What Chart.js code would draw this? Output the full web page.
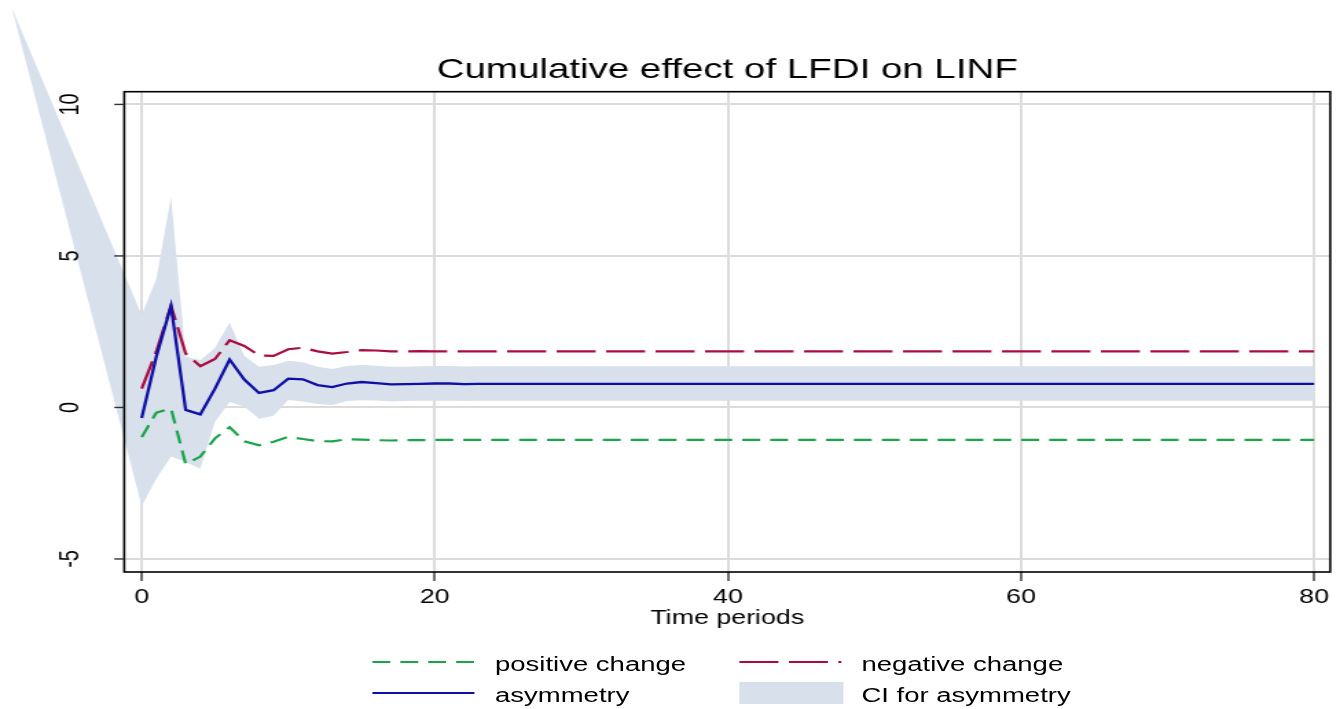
<!DOCTYPE html>
<html>
<head>
<meta charset="utf-8">
<script src="https://cdn.jsdelivr.net/npm/chart.js@4"></script>
<style>
  html, body { margin: 0; padding: 0; background: #fff; overflow: hidden; }
  /* the original graph was exported narrow and stretched sideways, so draw narrow and stretch */
  #stage { position: absolute; left: 0; top: 0; width: 975px; height: 709px;
           transform: scaleX(1.37436); transform-origin: 0 0;
           font-family: "Liberation Sans", Arial, sans-serif; }
  #chart { position: absolute; left: 0; top: 0; }
  .key { position: absolute; font-size: 20px; line-height: 24px; color: #000; white-space: nowrap; }
  .swatch { position: absolute; overflow: visible; }
</style>
</head>
<body>
<div id="stage">
  <canvas id="chart" width="975" height="709"></canvas>
  <div id="legend"></div>
</div>
<script>
const periods = [0,1,2,3,4,5,6,7,8,9,10,11,12,13,14,15,16,17,18,19,20,
  21,22,23,24,25,26,27,28,29,30,31,32,33,34,35,36,37,38,39,40,
  41,42,43,44,45,46,47,48,49,50,51,52,53,54,55,56,57,58,59,60,
  61,62,63,64,65,66,67,68,69,70,71,72,73,74,75,76,77,78,79,80];

const positiveChange = [-0.98,-0.17,-0.03,-1.87,-1.62,-1.02,-0.65,-1.12,-1.25,-1.13,-0.97,
  -1.04,-1.11,-1.12,-1.05,-1.06,-1.08,-1.09,-1.08,-1.08,-1.07,
  -1.07,-1.07,-1.07,-1.07,-1.07,-1.07,-1.07,-1.07,-1.07,-1.07,
  -1.07,-1.07,-1.07,-1.07,-1.07,-1.07,-1.07,-1.07,-1.07,-1.07,
  -1.07,-1.07,-1.07,-1.07,-1.07,-1.07,-1.07,-1.07,-1.07,-1.07,
  -1.07,-1.07,-1.07,-1.07,-1.07,-1.07,-1.07,-1.07,-1.07,-1.07,
  -1.07,-1.07,-1.07,-1.07,-1.07,-1.07,-1.07,-1.07,-1.07,-1.07,
  -1.07,-1.07,-1.07,-1.07,-1.07,-1.07,-1.07,-1.07,-1.07,-1.07];

const negativeChange = [0.62,1.85,3.36,1.78,1.36,1.60,2.22,2.03,1.72,1.70,1.92,
  1.97,1.85,1.78,1.83,1.89,1.88,1.85,1.85,1.86,1.85,
  1.85,1.85,1.85,1.85,1.85,1.85,1.85,1.85,1.85,1.85,
  1.85,1.85,1.85,1.85,1.85,1.85,1.85,1.85,1.85,1.85,
  1.85,1.85,1.85,1.85,1.85,1.85,1.85,1.85,1.85,1.85,
  1.85,1.85,1.85,1.85,1.85,1.85,1.85,1.85,1.85,1.85,
  1.85,1.85,1.85,1.85,1.85,1.85,1.85,1.85,1.85,1.85,
  1.85,1.85,1.85,1.85,1.85,1.85,1.85,1.85,1.85,1.85];

const asymmetry = [-0.35,1.68,3.35,-0.08,-0.23,0.62,1.58,0.92,0.48,0.57,0.95,
  0.93,0.74,0.67,0.79,0.84,0.80,0.76,0.77,0.78,0.79,
  0.79,0.77,0.78,0.78,0.78,0.78,0.78,0.78,0.78,0.78,
  0.78,0.78,0.78,0.78,0.78,0.78,0.78,0.78,0.78,0.78,
  0.78,0.78,0.78,0.78,0.78,0.78,0.78,0.78,0.78,0.78,
  0.78,0.78,0.78,0.78,0.78,0.78,0.78,0.78,0.78,0.78,
  0.78,0.78,0.78,0.78,0.78,0.78,0.78,0.78,0.78,0.78,
  0.78,0.78,0.78,0.78,0.78,0.78,0.78,0.78,0.78,0.78];

const ciUpper = [3.05,4.25,6.95,1.68,1.56,1.97,2.80,1.70,1.34,1.40,1.54,
  1.49,1.34,1.27,1.37,1.40,1.38,1.34,1.34,1.36,1.37,
  1.37,1.35,1.36,1.36,1.36,1.36,1.36,1.36,1.36,1.36,
  1.36,1.36,1.36,1.36,1.36,1.36,1.36,1.36,1.36,1.36,
  1.36,1.36,1.36,1.36,1.36,1.36,1.36,1.36,1.36,1.36,
  1.36,1.36,1.36,1.36,1.36,1.36,1.36,1.36,1.36,1.36,
  1.36,1.36,1.36,1.36,1.36,1.36,1.36,1.36,1.36,1.36,
  1.36,1.36,1.36,1.36,1.36,1.36,1.36,1.36,1.36,1.36];

const ciLower = [-3.25,-2.35,-1.62,-1.80,-2.02,-0.47,0.18,0.03,-0.37,-0.27,0.25,
  0.20,0.11,0.08,0.21,0.24,0.23,0.20,0.21,0.22,0.22,
  0.22,0.21,0.22,0.22,0.22,0.22,0.22,0.22,0.22,0.22,
  0.22,0.22,0.22,0.22,0.22,0.22,0.22,0.22,0.22,0.22,
  0.22,0.22,0.22,0.22,0.22,0.22,0.22,0.22,0.22,0.22,
  0.22,0.22,0.22,0.22,0.22,0.22,0.22,0.22,0.22,0.22,
  0.22,0.22,0.22,0.22,0.22,0.22,0.22,0.22,0.22,0.22,
  0.22,0.22,0.22,0.22,0.22,0.22,0.22,0.22,0.22,0.22];

// the CI polygon starts from a stray point far up-left of the plot region
const ciLead = { x: -8.87, y: 13.2 };

const xTicks = [0, 20, 40, 60, 80];
const yTicks = [-5, 0, 5, 10];

const FONT = '"Liberation Sans", Arial, sans-serif';
const GREEN = '#1aa54a', RED = '#ab0c40', BLUE = '#1010a4', BAND = '#d8e0ec';
const GREEN_DASH = [13, 7.3], RED_DASH = [28.4, 7.6];

Chart.defaults.font.family = FONT;

const toXY = (vals) => periods.map((p, i) => ({ x: p, y: vals[i] }));

// CI band drawn through the scales, without clipping to the plot region
const ciBand = {
  id: 'ciBand',
  beforeDatasetsDraw(chart) {
    const { ctx, scales: { x, y } } = chart;
    ctx.save();
    ctx.beginPath();
    ctx.moveTo(x.getPixelForValue(ciLead.x), y.getPixelForValue(ciLead.y));
    periods.forEach((p, i) => ctx.lineTo(x.getPixelForValue(p), y.getPixelForValue(ciUpper[i])));
    for (let i = periods.length - 1; i >= 0; i--) {
      ctx.lineTo(x.getPixelForValue(periods[i]), y.getPixelForValue(ciLower[i]));
    }
    ctx.closePath();
    ctx.fillStyle = BAND;
    ctx.fill();
    ctx.restore();
  }
};

// plot frame, left tick marks and the rotated y labels (Stata style)
const frame = {
  id: 'frame',
  afterDatasetsDraw(chart) {
    const { ctx, chartArea: a, scales: { y } } = chart;
    ctx.save();
    ctx.strokeStyle = '#000';
    ctx.lineWidth = 1.6;
    ctx.strokeRect(a.left, a.top, a.right - a.left, a.bottom - a.top);
    ctx.strokeStyle = '#333';
    ctx.lineWidth = 1.4;
    ctx.fillStyle = '#000';
    ctx.font = '20px ' + FONT;
    ctx.textAlign = 'center';
    ctx.textBaseline = 'middle';
    yTicks.forEach((v) => {
      const py = y.getPixelForValue(v);
      ctx.beginPath();
      ctx.moveTo(a.left - 7.3, py);
      ctx.lineTo(a.left, py);
      ctx.stroke();
      ctx.save();
      ctx.translate(51.2, py);
      ctx.rotate(-Math.PI / 2);
      ctx.fillText(String(v), 0, 0);
      ctx.restore();
    });
    ctx.restore();
  }
};

new Chart(document.getElementById('chart'), {
  type: 'line',
  data: {
    datasets: [
      { label: 'asymmetry', data: toXY(asymmetry), borderColor: BLUE, borderWidth: 2.3 },
      { label: 'negative change', data: toXY(negativeChange), borderColor: RED, borderWidth: 2.2, borderDash: RED_DASH },
      { label: 'positive change', data: toXY(positiveChange), borderColor: GREEN, borderWidth: 2.2, borderDash: GREEN_DASH },
    ],
  },
  options: {
    responsive: false,
    animation: false,
    elements: { point: { radius: 0 }, line: { tension: 0, fill: false } },
    layout: { padding: { left: 0, right: 7.1, top: 0, bottom: 77 } },
    plugins: {
      legend: { display: false },
      tooltip: { enabled: false },
      title: {
        display: true,
        text: 'Cumulative effect of LFDI on LINF',
        fullSize: false,
        color: '#000',
        font: { size: 28, weight: 'normal' },
        padding: { top: 53.2, bottom: 4.9 },
      },
    },
    scales: {
      x: {
        type: 'linear',
        min: -1.19,
        max: 81.1,
        afterBuildTicks: (s) => { s.ticks = xTicks.map((v) => ({ value: v })); },
        afterFit: (s) => { s.height = 60; },
        border: { display: false },
        grid: { color: '#dcdcdc', lineWidth: 2, tickColor: '#333', tickWidth: 1.4, tickLength: 9 },
        ticks: { color: '#000', font: { size: 19.5 }, padding: 5.4, maxRotation: 0, autoSkip: false },
        title: { display: true, text: 'Time periods', color: '#000', font: { size: 19.5 }, padding: { top: 0, bottom: 1.8 } },
      },
      y: {
        type: 'linear',
        min: -5.43,
        max: 10.42,
        afterBuildTicks: (s) => { s.ticks = yTicks.map((v) => ({ value: v })); },
        afterFit: (s) => { s.width = 90.4; },
        border: { display: false },
        grid: { color: '#dcdcdc', lineWidth: 2, drawTicks: false },
        ticks: { display: false },
      },
    },
  },
  plugins: [ciBand, frame],
});

// legend in two columns below the plot
const legendItems = [
  { text: 'positive change', kind: 'line', color: GREEN, dash: GREEN_DASH, col: 0, row: 0 },
  { text: 'negative change', kind: 'line', color: RED, dash: RED_DASH, col: 1, row: 0 },
  { text: 'asymmetry', kind: 'line', color: BLUE, dash: [], col: 0, row: 1 },
  { text: 'CI for asymmetry', kind: 'area', color: BAND, col: 1, row: 1 },
];
const colX = [271.4, 538.0];
const rowY = [662, 693];
const legend = document.getElementById('legend');
legendItems.forEach((it) => {
  const sx = colX[it.col], sy = rowY[it.row];
  const svg = document.createElementNS('http://www.w3.org/2000/svg', 'svg');
  svg.setAttribute('class', 'swatch');
  svg.setAttribute('width', '76');
  svg.setAttribute('height', '24');
  svg.style.left = sx + 'px';
  svg.style.top = (sy - 12) + 'px';
  if (it.kind === 'line') {
    const ln = document.createElementNS('http://www.w3.org/2000/svg', 'line');
    ln.setAttribute('x1', '0'); ln.setAttribute('x2', '74.2');
    ln.setAttribute('y1', '12'); ln.setAttribute('y2', '12');
    ln.setAttribute('stroke', it.color);
    ln.setAttribute('stroke-width', '2');
    if (it.dash.length) ln.setAttribute('stroke-dasharray', it.dash.join(' '));
    svg.appendChild(ln);
  } else {
    const r = document.createElementNS('http://www.w3.org/2000/svg', 'rect');
    r.setAttribute('x', '0'); r.setAttribute('y', '1');
    r.setAttribute('width', '75.7'); r.setAttribute('height', '22');
    r.setAttribute('fill', it.color);
    svg.appendChild(r);
  }
  legend.appendChild(svg);
  const t = document.createElement('div');
  t.className = 'key';
  t.textContent = it.text;
  t.style.left = (sx + 88.8) + 'px';
  t.style.top = (sy - 10) + 'px';
  legend.appendChild(t);
});
</script>
</body>
</html>
